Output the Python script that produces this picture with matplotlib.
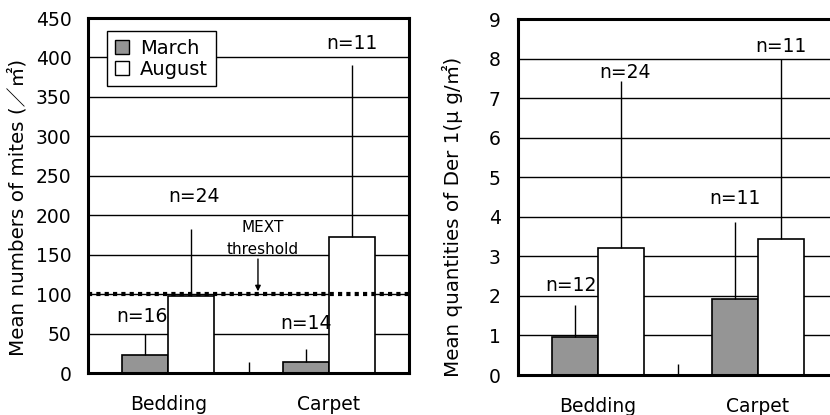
import matplotlib
matplotlib.use("Agg")
import matplotlib.pyplot as plt
from matplotlib.patches import Patch
import numpy as np

plt.rcParams['font.family'] = ['DejaVu Sans', 'Noto Sans CJK JP']

categories = ["Bedding", "Carpet"]
series = ["March", "August"]

mites_march = [23, 14]
mites_march_err = [49, 30]
mites_august = [97, 173]
mites_august_err = [183, 391]
mites_n_march = ["n=16", "n=14"]
mites_n_august = ["n=24", "n=11"]
mites_threshold = 100

der_march = [0.97, 1.91]
der_march_err = [1.77, 3.88]
der_august = [3.2, 3.45]
der_august_err = [7.43, 8.0]
der_n_march = ["n=12", "n=11"]
der_n_august = ["n=24", "n=11"]

left_ticks = [0, 50, 100, 150, 200, 250, 300, 350, 400, 450]
right_ticks = [0, 1, 2, 3, 4, 5, 6, 7, 8, 9]

W, H = 830, 415
fig = plt.figure(figsize=(W / 100, H / 100), dpi=100)

GRAY = "#959595"
FS_TICK = 13.5
FS_N = 13.5
FS_LAB = 14.3
bw = 0.287
x = np.arange(len(categories))


def setup(ax, ticks, ylabel, label_x, label_y):
    ax.set_xlim(-0.5, 1.5)
    ax.set_ylim(ticks[0], ticks[-1])
    ax.set_yticks(ticks)
    ax.set_yticklabels([str(t) for t in ticks], fontsize=FS_TICK)
    ax.yaxis.grid(True, color="black", linewidth=1.0, zorder=0)
    ax.set_axisbelow(True)
    ax.tick_params(axis="y", length=0, pad=12)
    ax.set_xticks(x)
    ax.set_xticklabels(categories, fontsize=FS_TICK)
    ax.tick_params(axis="x", which="major", length=0, pad=16)
    ax.set_xticks([0.5], minor=True)
    ax.tick_params(axis="x", which="minor", direction="in", length=8, width=1, color="black")
    for s in ax.spines.values():
        s.set_linewidth(2.2)
        s.set_color("black")
    ax.set_ylabel(ylabel, fontsize=FS_LAB)
    ax.yaxis.set_label_coords(label_x, label_y)


def bars(ax, march, march_err, aug, aug_err, nm, na, ym, ya, dxm, dxa):
    ax.bar(x - bw / 2, march, bw, color=GRAY, edgecolor="black", linewidth=1.2, zorder=2)
    ax.bar(x + bw / 2, aug, bw, color="white", edgecolor="black", linewidth=1.2, zorder=2)
    ax.errorbar(x - bw / 2, march, yerr=[np.zeros(2), np.array(march_err) - np.array(march)],
                fmt="none", ecolor="black", elinewidth=1.0, capsize=0, zorder=3)
    ax.errorbar(x + bw / 2, aug, yerr=[np.zeros(2), np.array(aug_err) - np.array(aug)],
                fmt="none", ecolor="black", elinewidth=1.0, capsize=0, zorder=3)
    for i in range(2):
        ax.text(x[i] - bw / 2 + dxm[i], ym[i], nm[i], ha="center", va="center", fontsize=FS_N, zorder=4)
        ax.text(x[i] + bw / 2 + dxa[i], ya[i], na[i], ha="center", va="center", fontsize=FS_N, zorder=4)


# Left panel
ax1 = fig.add_axes([88 / W, 1 - 373 / H, 321 / W, 355 / H])
setup(ax1, left_ticks, "Mean numbers of mites (／㎡)", -0.19, 0.466)
bars(ax1, mites_march, mites_march_err, mites_august, mites_august_err,
     mites_n_march, mites_n_august, [71, 63], [224, 418], [-0.02, 0.0], [0.017, 0.0])
ax1.axhline(mites_threshold, color="black", linewidth=3, linestyle=(0, (1, 1)), zorder=5)
ax1.text(0.588, 185, "MEXT", ha="center", va="center", fontsize=11, zorder=0.5)
ax1.text(0.588, 157, "threshold", ha="center", va="center", fontsize=11, zorder=0.5)
ax1.annotate("", xy=(0.559, mites_threshold), xytext=(0.559, 148),
             arrowprops=dict(arrowstyle="-|>", color="black", lw=1.0, mutation_scale=8), zorder=4)
leg = ax1.legend(handles=[Patch(facecolor=GRAY, edgecolor="black", label=series[0]),
                          Patch(facecolor="white", edgecolor="black", label=series[1])],
                 loc="upper left", bbox_to_anchor=(0.059, 0.964), borderaxespad=0,
                 fontsize=14, fancybox=False, framealpha=1, edgecolor="black",
                 handlelength=0.75, handleheight=0.75, handletextpad=0.55,
                 labelspacing=0.1, borderpad=0.4)
leg.get_frame().set_linewidth(1.0)
leg.set_zorder(6)

# Right panel
ax2 = fig.add_axes([517.5 / W, 1 - 375 / H, 320.4 / W, 356 / H])
setup(ax2, right_ticks, "Mean quantities of Der 1(μ g/㎡)", -0.17, 0.444)
bars(ax2, der_march, der_march_err, der_august, der_august_err,
     der_n_march, der_n_august, [2.27, 4.45], [7.64, 8.3], [-0.025, 0.0], [0.03, 0.0])

fig.savefig("out.png", dpi=100)
